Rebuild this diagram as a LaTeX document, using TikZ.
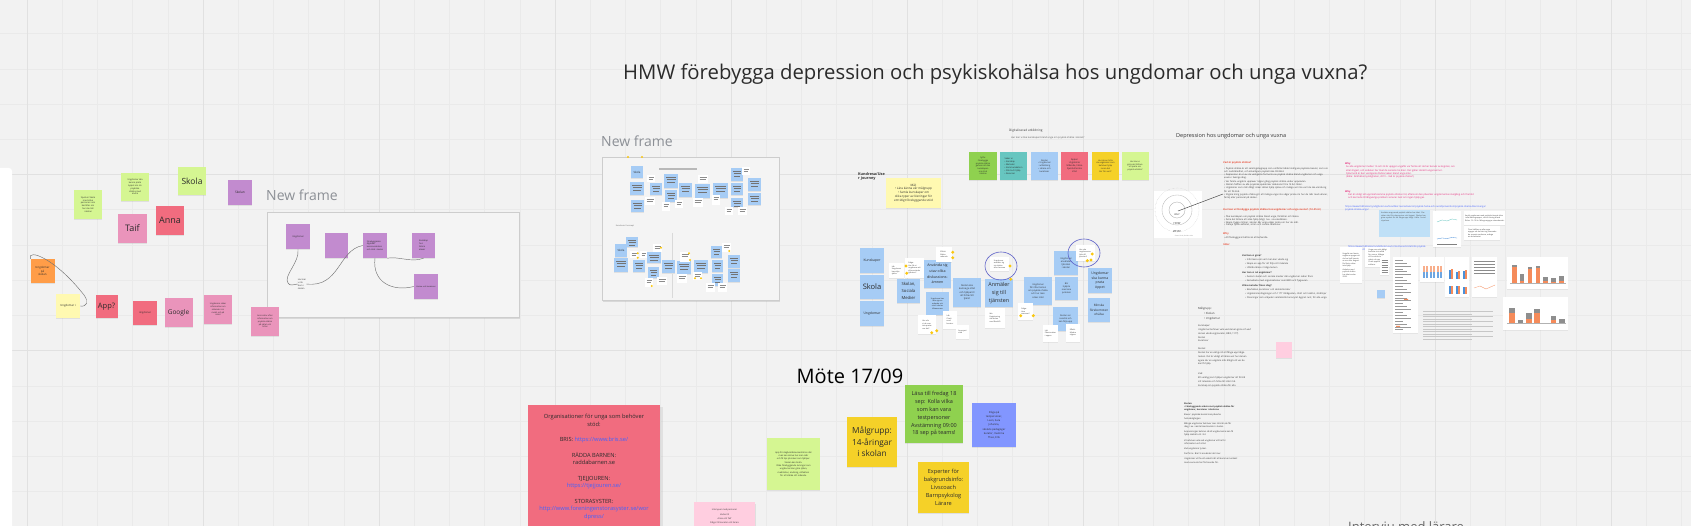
\documentclass[tikz,border=0pt]{standalone}
\usepackage{fontspec}
\setmainfont{Open Sans}
\usetikzlibrary{shadows}
\definecolor{bg}{HTML}{F2F2F2}
\definecolor{gridminor}{HTML}{EAEAEA}
\definecolor{gridmajor}{HTML}{E1E1E1}
\definecolor{lgreen}{HTML}{D5F692}
\definecolor{mgreen}{HTML}{8FD14F}
\definecolor{violetn}{HTML}{C28BCF}
\definecolor{pinkn}{HTML}{EA94BB}
\definecolor{redn}{HTML}{F16C7F}
\definecolor{orangen}{HTML}{FF9D48}
\definecolor{lyellow}{HTML}{FFF9B1}
\definecolor{yellown}{HTML}{F5D128}
\definecolor{lblue}{HTML}{A6CCF5}
\definecolor{tealn}{HTML}{67C6C0}
\definecolor{dblue}{HTML}{8296FF}
\definecolor{lpink}{HTML}{FFCEE0}
\definecolor{framegray}{HTML}{8C9096}
\definecolor{framefill}{HTML}{F4F4F4}
\definecolor{framedraw}{HTML}{CDCDCD}
\definecolor{linkblue}{HTML}{4262FF}
\definecolor{headred}{HTML}{E8513B}
\definecolor{pinktext}{HTML}{E6287A}
\definecolor{dotyellow}{HTML}{FAC710}
\definecolor{circleblue}{HTML}{5B5FC7}
\definecolor{chartorange}{HTML}{F58B5A}
\definecolor{chartgray}{HTML}{8E8E8E}
\definecolor{chartblue}{HTML}{4A90D9}
\definecolor{inktext}{HTML}{2B2B2B}
\definecolor{boxblue}{HTML}{BFE0F7}
\tikzset{
  note/.style={fill=#1, inner sep=0.6pt, align=center, text=inktext,
    drop shadow={opacity=0.16, shadow xshift=0.3pt, shadow yshift=-1.3pt}},
  sz/.style 2 args={minimum width=#1pt, minimum height=#2pt},
  fs/.style 2 args={font=\fontsize{#1}{#2}\selectfont},
  card/.style={fill=white, inner sep=0.8pt, align=left, text=black!75,
    font=\fontsize{1.9}{2.5}\selectfont,
    drop shadow={opacity=0.12, shadow xshift=0pt, shadow yshift=-0.8pt}},
  ydot/.style={circle, fill=dotyellow, inner sep=0pt, minimum size=3.3pt},
  conn/.style={draw=black!55, line width=0.45pt},
  framebox/.style={fill=framefill, draw=framedraw, line width=0.7pt, inner sep=0pt,
    drop shadow={opacity=0.22, shadow xshift=0.6pt, shadow yshift=-1.2pt}},
  framelabel/.style={font=\fontsize{14}{16}\selectfont, text=framegray, inner sep=0pt},
  txt/.style={inner sep=0pt, align=left, text=black!80},
}
\begin{document}
\begin{tikzpicture}[x=1pt,y=-1pt]
\useasboundingbox (0,0) rectangle (1691,526);
\clip (0,0) rectangle (1691,526);
\fill[bg] (0,0) rectangle (1691,526);
% grid
\foreach \i in {0,...,47} \draw[gridminor, line width=0.6pt] ({27+35.2*\i},0) -- ({27+35.2*\i},526);
\foreach \j in {1,...,14} \draw[gridminor, line width=0.6pt] (0,{-1.4+35.2*\j}) -- (1691,{-1.4+35.2*\j});
\foreach \i in {0,...,9} \draw[gridmajor, line width=0.8pt] ({27+176*\i},0) -- ({27+176*\i},526);
\foreach \j in {1,2} \draw[gridmajor, line width=0.8pt] (0,{-1.4+176*\j}) -- (1691,{-1.4+176*\j});

% title
\node[anchor=base west, inner sep=0, font=\fontsize{20.3}{24}\selectfont, text=inktext] (title) at (623,79.5) {HMW förebygga depression och psykiskohälsa hos ungdomar och unga vuxna?};

% left white panel
\fill[white, rounded corners=3pt] (-6,168) rectangle (12,540);

% ---------- left cluster ----------
\node[note=lgreen, sz={28}{29}, fs={2.2}{2.8}] (jg1) at (88,204.5) {Spela in Skola\\med olika\\personer som\\berättar om\\hur de mår\\i skolan};
\node[note=lgreen, sz={28}{28}, fs={2.2}{2.8}] (jg2) at (135,187) {Ungdomar ska\\kunna prata\\öppet om sin\\psykiska\\ohälsa med\\andra};
\node[note=lgreen, sz={28}{28}, fs={8.5}{10}] (skola) at (192,181) {Skola};
\node[note=violetn, sz={24}{25}, fs={3.2}{4}] (skolan) at (240,192.5) {Skolan};
\node[note=pinkn, sz={29}{29}, fs={9}{10}] (taif) at (132.5,228.5) {Taif};
\node[note=redn, sz={28}{29}, fs={9}{10}] (anna) at (170,220.5) {Anna};
\node[note=orangen, sz={24}{24}, fs={2.8}{3.6}] (ung1) at (42.5,271) {Ungdomar\\på\\skolan};
\node[note=lyellow, sz={24}{24}, fs={2.8}{3.6}] (ung2) at (68,306) {Ungdomar i};
\node[note=redn, sz={22}{23}, fs={7.5}{8}] (app) at (106.5,306.5) {App?};
\node[note=redn, sz={24}{24}, fs={2.4}{3}] (ung3) at (145,313) {Ungdomar};
\node[note=pinkn, sz={28}{29}, fs={6.5}{7}] (google) at (178.5,312.5) {Google};
\node[note=pinkn, sz={28}{29}, fs={2.1}{2.8}] (pk1) at (218,309.5) {Ungdomar söker\\information om\\mående i sin\\mobil och på\\nätet};
\draw[conn] (ung1.north west) .. controls (27,248) and (55,258) .. (84,295) .. controls (89,302) and (87,307) .. (ung2.east);

% ---------- left frame ----------
\node[framelabel, anchor=base west] (fl1) at (266,201) {New frame};
\node[framebox, anchor=north west, sz={252}{105}] (f1) at (267,212) {};
\node[note=violetn, sz={24}{25}, fs={2.3}{3}] (p1) at (298,236.5) {Ungdomar};
\node[note=violetn, sz={23}{25}] (p2) at (336.5,245.5) {};
\node[note=violetn, sz={24}{25}, fs={2.1}{2.8}, align=left] (p3) at (375,245.5) {Förebyggande\\åtgärder\\kommunikation\\och stöd i skolan};
\node[note=violetn, sz={23}{25}, fs={2.2}{2.9}, align=left] (p4) at (423.5,245.5) {Kunskap\\hos\\lärare\\elever};
\node[note=violetn, sz={24}{25}, fs={2}{2.6}] (p5) at (426,286.5) {Lärare och kuratorer};
\node[txt, fs={2.2}{2.9}] (t1) at (302,284) {Hur kan\\vi nå\\dem i\\skolan};
\draw[conn] (p1.south) .. controls (300,262) and (283,276) .. (288,283) .. controls (290,286) and (292,285) .. (t1.west);
\draw[conn] (t1.east) .. controls (340,288) and (338,250) .. (p3.west);
\draw[conn] (p3.south east) .. controls (398,256) and (412,263) .. (p4.south);
\draw[conn] (p3.south) .. controls (372,282) and (392,292) .. (p5.west);
\node[note=pinkn, sz={28}{29}, fs={2.1}{2.8}] (pk2) at (265,321.5) {Anna letar efter\\information om\\psykisk ohälsa\\på nätet och\\hittar};

% ---------- middle frame ----------
\node[framelabel, anchor=base west] (fl2) at (601,147) {New frame};
\node[framebox, anchor=north west, sz={177}{143}] (f2) at (602,157) {};
\fill[gray!55] (659,168) rectangle (697,170.5);
\draw[gray!30, line width=0.4pt] (672,233) -- (672,298);
\node[txt, fs={2}{2.5}, text=black!60] (custlab) at (625,226) {Kundresa / koncept};
\foreach \a/\b/\c/\d in {630/182/644/195, 631/200/644/212, 650/183/662/195, 664/174/678/188, 665/190/677/202, 679/183/692/197, 695/184/710/198, 713/183/728/198, 731/168/743/181, 731/183/743/195, 731/198/743/207, 748/178/761/191, 748/193/761/205, 626/237/638/247, 614/258/628/272, 633/260/645/272, 647/252/661/263, 648/267/659/278, 662/260/675/273, 677/261/691/274, 694/260/708/273, 711/246/722/258, 712/260/723/272, 712/274/723/286, 728/255/740/268, 728/269/740/282} {
  \fill[black!12] ({\a+0.3},{\b+0.8}) rectangle ({\c+0.3},{\d+0.8});
  \fill[lblue] (\a,\b) rectangle (\c,\d);
  \draw[black!55, line width=0.3pt] ({\a+2},{\b+3}) -- ({\c-2},{\b+3}) ({\a+2.5},{\b+5.5}) -- ({\c-2.5},{\b+5.5}) ({\a+3},{\b+8}) -- ({\c-3},{\b+8});
}
\node[note=lblue, sz={12}{12}, fs={2.8}{3}] (ms1) at (637,172) {Skola};
\node[note=lblue, sz={12}{13}, fs={2.8}{3}] (ms2) at (621,250.5) {Skola};
\foreach \a/\b/\c/\d in {647/175/655/182, 645/197/655/205, 662/202/670/211, 675/200/683/208, 693/198/703/207, 698/175/708/183, 712/195/720/205, 725/207/733/215, 738/207/747/215, 742/167/750/175, 653/244/662/252, 630/251/638/258, 640/251/647/258, 680/252/690/262, 677/274/687/283, 657/277/667/285, 645/278/653/287, 693/272/702/280, 706/283/715/292, 718/283/727/292, 722/243/731/252} {
  \fill[white] (\a,\b) rectangle (\c,\d);
  \draw[black!45, line width=0.25pt] ({\a+1.5},{\b+2.5}) -- ({\c-1.5},{\b+2.5}) ({\a+1.5},{\b+4.5}) -- ({\c-2.5},{\b+4.5});
}
\foreach \p/\q in {637.7/253.3, 637.7/257.7, 661/247.7, 689/253.3, 690/260, 695/278.3, 701/278.3, 651.7/286, 729.3/251, 628/157, 642/157}
  \fill[dotyellow] (\p,\q) circle (1.1pt);

% ---------- middle cluster ----------
\node[anchor=north west, txt, fs={4}{4.6}, font=\bfseries\fontsize{3.8}{4.6}\selectfont] (kund) at (858,172) {Kundresa/Use\\r journey};
\node[note=lyellow, sz={55}{30}, fs={3}{3.9}] (mal) at (913.5,193) {Mål:\\• Lära känna vår målgrupp\\• Samla kunskaper om\\olika typer av lösningar för\\ett tidigt förebyggande stöd};
\node[anchor=west, txt, fs={3.1}{3.5}] (digit) at (1009,131) {Digitaliserad utbildning};
\node[anchor=west, txt, fs={2.4}{3}, text=black!65] (hurkan) at (1011,137.5) {Hur kan vi öka kunskapen bland unga om psykisk ohälsa i skolan?};
\node[note=mgreen, sz={28}{28}, fs={2.1}{2.7}] (tg) at (983,166) {Syfte:\\Förebygga\\psykisk ohälsa\\genom att öka\\kunskapen\\om stöd\\i skolan};
\node[note=tealn, sz={27}{28}, fs={2.2}{2.9}, align=left] (tt) at (1013.5,166) {Saker vi:\\• Kunskap\\• Metoder\\• Kommunikation\\• Stöd och hjälp\\• Resurser};
\node[note=lblue, sz={27}{28}, fs={2.2}{2.9}] (tb) at (1044.5,166) {Skolan\\• Ungdomar\\i utbildning\\• Lärare och\\kuratorer};
\node[note=redn, sz={27}{28}, fs={2.3}{3}] (tr) at (1074.5,166) {Appen\\Ungdomar\\Mående, hälsa\\Sjuksköterska\\stöd};
\node[note=yellown, sz={27}{28}, fs={2.1}{2.8}] (ty) at (1105.5,166) {Hur ska vi hitta\\de ungdomar som\\behöver hjälp\\innan det\\blir för sent?};
\node[note=lgreen, sz={27}{28}, fs={2.1}{2.8}] (tl) at (1135,166) {Hur kan vi\\göra det lättare\\att prata om\\psykisk ohälsa?};

\node[note=lblue, sz={24}{25}, fs={3.4}{4}] (b1) at (872,260.5) {Kunskaper};
\node[note=lblue, sz={24}{24}, fs={7.5}{8}] (b2) at (872,287) {Skola};
\node[note=lblue, sz={24}{25}, fs={3.4}{4}] (b3) at (872,313.5) {Ungdomar};
\node[note=lblue, sz={23}{24}, fs={4.2}{6.6}] (b4) at (908.5,291) {Skolan,\\Sociala\\Medier};
\node[note=lblue, sz={27}{28}, fs={3.6}{5.6}] (b5) at (937.5,274) {Använda sig\\utav olika\\diskussions-\\ämnen};
\node[note=lblue, sz={23}{23}, fs={1.9}{2.5}] (b6) at (937.5,303.5) {Ungdomar kan\\lära sig om\\mående och\\stöd i skolan\\tillsammans};
\node[note=lblue, sz={28}{29}, fs={2.4}{3.2}] (b7) at (967,292.5) {Skolan ska\\kunna ge stöd\\och hjälpa till\\att hitta rätt\\tjänst};
\node[note=lblue, sz={28}{28}, fs={5.4}{8}] (b8) at (999,293) {Anmäler\\sig till\\tjänsten};
\node[note=lblue, sz={28}{28}, fs={2.3}{3.1}] (b9) at (1038,291) {Ungdomar\\får information\\om psykisk ohälsa\\och hur man\\söker stöd};
\node[note=lblue, sz={24}{24}, fs={2.3}{3.1}] (b10) at (1066,263) {Ungdomar\\använder\\tjänsten\\i skolan};
\node[note=lblue, sz={23}{23}, fs={2.2}{3}] (b11) at (1066.5,288.5) {Blir\\hjälpta\\med sina\\problem};
\node[note=lblue, sz={25}{24}, fs={2.2}{3}] (b12) at (1065.5,319) {Skolan ser\\resultat och\\kan följa upp};
\node[note=lblue, sz={24}{25}, fs={3.5}{4.8}] (b13) at (1100,280.5) {Ungdomar\\ska kunna\\prata\\öppet};
\node[note=lblue, sz={22}{24}, fs={3.1}{4.6}] (b14) at (1099,310) {Minska\\förekomsten\\ohälsa};

\node[card, sz={15}{15}] (w1) at (896.5,270.5) {Idé:\\Ungdomar\\kan välja\\själva};
\node[card, sz={19}{20}] (w2) at (914.5,268) {Fråga:\\Hur får vi\\ungdomar att\\vilja använda\\tjänsten?};
\node[card, sz={16}{15}] (w3) at (944,254.5) {Effekt:\\Bättre\\mående};
\node[card, sz={18}{19}] (w4) at (927,324.5) {Hur når\\vi de som\\inte pratar\\om det?};
\node[card, sz={14}{18}] (w5) at (950,320) {Idé:\\Chatt\\med\\kurator};
\node[card, sz={13}{14}] (w6) at (962.5,332) {Anonymt\\stöd};
\node[card, sz={20}{20}] (w7) at (995,318) {Idé:\\Registrering\\via skolan\\med BankID};
\node[card, sz={15}{17}] (w8) at (1025.5,311.5) {Fråga:\\Vem\\ansvarar?};
\node[card, sz={15}{17}] (w9) at (1050.5,333.5) {Idé:\\Påminnelser\\i appen};
\node[card, sz={14}{18}] (w10) at (1073,333) {Effekt:\\Mindre\\stigma};
\draw[circleblue, line width=0.6pt] (1001,266) ellipse [x radius=16pt, y radius=14pt];
\draw[circleblue, line width=0.6pt] (1084,253) ellipse [x radius=16pt, y radius=14pt];
\node[card, sz={19}{14}] (w11) at (999.5,264.5) {Ungdomar\\anmäler sig\\via skolan\\eller hemma};
\node[card, sz={19}{16}] (w12) at (1085,253.5) {Hur ska\\ungdomarna\\hitta till\\tjänsten?};
\foreach \p/\q in {906/266, 906.7/273.3, 952.7/252.3, 952.7/257.7, 1010/266, 1010.7/279.3, 936.7/330.7, 931.7/332.7, 1020.7/315.7, 1033.3/315.7, 1092.3/254, 1087.3/260.7, 1091/260}
  \node[ydot] at (\p,\q) {};

% ---------- golden circle ----------
\node[fill=white, sz={48}{47}, inner sep=0pt] (gc) at (1178,214.5) {};
\draw[gray!45, line width=0.35pt, densely dotted] (1177,210) circle (22pt);
\draw[gray!55, line width=0.35pt] (1177,210) circle (15pt);
\draw[gray!65, line width=0.35pt] (1177,210) circle (8pt);
\node[txt, fs={2.4}{3}] (why) at (1177,215) {WHY};
\node[txt, fs={2.8}{3}] (how) at (1177,223.5) {HOW};
\node[txt, fs={2.8}{3}] (what) at (1177,231) {WHAT};
\node[txt, fs={1.5}{2}, text=black!50] (gcap) at (1184,236.5) {Simon Sinek, Golden circle};
\coordinate (gcc) at (1178,211);
\draw[black!70, line width=0.5pt] (gcc) -- (1223,194);

% ---------- depression text ----------
\node[anchor=west, txt, fs={5.5}{6}, text=black!80] (dep) at (1176,136) {Depression hos ungdomar och unga vuxna};
\node[anchor=west, txt, text=headred, font=\bfseries\fontsize{2.5}{3}\selectfont] (ha) at (1223,163) {Vad är psykisk ohälsa?};
\node[anchor=north west, txt, text width=104pt, fs={2.3}{3.3}] (ba) at (1224,167) {• Psykisk ohälsa är ett samlingsbegrepp som omfattar både lindrigare psykiska besvär, som oro och nedstämdhet, och allvarligare psykiatriska tillstånd.\\• Depression är en av de vanligaste formerna av psykisk ohälsa bland ungdomar och unga vuxna i Sverige idag.\\• Var femte ungdom upplever någon gång psykisk ohälsa under uppväxten.\\• Nästan hälften av alla psykiska sjukdomar debuterar före 14 års ålder.\\• Ungdomar som mår dåligt söker sällan hjälp själva och många vet inte vart de ska vända sig för att få stöd.\\• Stigma kring psykisk ohälsa gör att många unga inte vågar prata om hur de mår med vänner, familj eller personal på skolan.};
\node[anchor=west, txt, text=headred, font=\bfseries\fontsize{2.5}{3}\selectfont] (hb) at (1223,210) {Hur kan vi förebygga psykisk ohälsa hos ungdomar och unga vuxna? (12--25 år)};
\node[anchor=north west, txt, text width=92pt, fs={2.3}{2.9}] (bb) at (1224,215) {• Öka kunskapen om psykisk ohälsa bland unga, föräldrar och lärare.\\• Göra det lättare att söka hjälp tidigt, t.ex. via elevhälsan.\\• Skapa trygga miljöer i skolan där unga vågar prata om hur de mår.\\• Främja fysisk aktivitet, sömn och sociala relationer.};
\node[anchor=west, txt, text=headred, font=\bfseries\fontsize{2.5}{3}\selectfont] (hc) at (1223,234) {Why};
\node[anchor=west, txt, fs={2.3}{3}] (bc) at (1224,238) {• Att förebygga är bättre än att behandla.};
\node[anchor=west, txt, text=headred, font=\bfseries\fontsize{2.5}{3}\selectfont] (hd) at (1223,244.5) {Idéer};
\node[anchor=north west, txt, text width=100pt, fs={2.3}{4}] (bd) at (1242,254.5) {\textbf{Vad kan vi göra?}\\ \hspace*{3pt}• Informera om vart man kan vända sig\\ \hspace*{3pt}• Skapa en app för att följa sitt mående\\ \hspace*{3pt}• Utbilda lärare i tidiga tecken\\[1pt]\textbf{Hur kan vi nå ungdomar?}\\ \hspace*{3pt}• Genom skolan och sociala medier där ungdomar redan finns\\ \hspace*{3pt}• Samarbeta med organisationer som BRIS och Tjejjouren\\[1pt]\textbf{Vilka metoder finns idag?}\\ \hspace*{3pt}• Elevhälsan, kuratorer och skolsköterskor\\ \hspace*{3pt}• Ungdomsmottagningar och 1177 Vårdguiden, chatt och telefon, stödlinjer\\ \hspace*{3pt}• Föreningar som erbjuder samtalsstöd anonymt dygnet runt, för alla unga};
\node[anchor=north west, txt, fs={2.8}{5}] (mg) at (1198,307.5) {Målgrupp:\\ \hspace*{6pt}• Skolan\\ \hspace*{6pt}• Ungdomar};
\node[anchor=north west, txt, fs={2.3}{3.7}] (ku) at (1198,325) {Kunskaper:\\Ungdomar behöver veta vad de kan göra och vart\\de kan vända sig (kurator, BRIS, 1177)\\Skolan\\Kuratorer};
\node[anchor=north west, txt, fs={2.3}{3.7}] (sk) at (1198,348) {Skolan:\\Skolan har en viktig roll att fånga upp tidiga\\tecken. Det är viktigt att lärare vet hur de kan\\agera när en ungdom mår dåligt och var de\\kan få hjälp.};
\node[anchor=north west, txt, fs={2.3}{3.7}] (va) at (1198,373) {Vad:\\Ett verktyg som hjälper ungdomar att förstå\\sitt mående och hitta rätt stöd i tid.\\Kunskap om psykisk ohälsa för alla};
\node[anchor=north west, txt, fs={2.2}{3.2}] (sr) at (1184,402.5) {\textbf{Skolan:}\\\textbf{• Förebyggande arbete mot psykisk ohälsa för}\\\textbf{ungdomar, kuratorer i skolorna}\\[2pt]Elever: psykiska besvär kan påverka\\hela skolgången\\[2pt]Många ungdomar behöver mer stöd än de får\\idag, t.ex. samtal med kurator i skolan.\\[2pt]Anpassningar behövs så att ungdomarna kan få\\hjälp snabbt och i tid\\[2pt]Vi behöver veta vad ungdomar vill ha för\\information och stöd\\[2pt]Vad ungdomar tycker.\\[2pt]Det finns. Bra! Vi använder det mer.\\[2pt]Ungdomar vill ha ett enkelt sätt att komma i kontakt\\med vuxna de har förtroende för.};
\node[note=lpink, sz={16}{16}] (psq) at (1284,350) {};

% pink / link texts
\node[anchor=north west, txt, text=pinktext, fs={2.4}{3.3}] (pw1) at (1345,162.5) {\textbf{Why}\\ \hspace*{1pt}Av alla ungdomar mellan 16 och 24 år uppger ungefär var femte att de har besvär av ängslan, oro\\ \hspace*{1pt}eller ångest, och andelen har ökat de senaste tio åren. Det gäller särskilt unga kvinnor.\\ \hspace*{1pt}Självmord är den vanligaste dödsorsaken bland unga män.\\ \hspace*{1pt}(Källa: Folkhälsomyndigheten, 2019 -- Vad är psykisk ohälsa?)};
\node[anchor=north west, txt, text=pinktext, fs={2.4}{3.3}] (pw2) at (1345,190) {\textbf{Why}\\ \hspace*{3pt}Det är viktigt att uppmärksamma psykisk ohälsa i tid, eftersom den påverkar ungdomarnas skolgång och framtid\\ \hspace*{3pt}och kan leda till långvariga problem senare i livet om ingen hjälp ges.};
\node[anchor=north west, txt, text=linkblue, fs={2.4}{3.3}] (lk1) at (1345,205.5) {https://www.folkhalsomyndigheten.se/livsvillkor-levnadsvanor/psykisk-halsa-och-suicidprevention/psykisk-ohalsa-bland-unga/\\psykisk-ohalsa-unga/};
\node[anchor=north west, txt, text=linkblue, fs={2.4}{3.3}] (lk2) at (1348,245.5) {https://www.folkhalsomyndigheten.se/contentassets/statistik-psykisk-\\ohalsa-unga-2019-rapport.pdf};
\node[fill=boxblue, anchor=north west, sz={51}{27}, inner sep=1.5pt, align=left, fs={1.9}{2.6}, text=black!70] (lbox) at (1379,210) {};
\node[anchor=north west, txt, text width=47pt, fs={1.9}{2.6}, text=black!70] (lboxt) at (1381,212) {Andelen unga med psykisk ohälsa har ökat. Fler söker vård för depression och ångest. Skolan kan göra mycket för att fånga upp tidigt. Källa: Socialstyrelsen};
\node[card, anchor=north west, sz={22}{36}] (sc0) at (1340,247) {Ungefär var femte\\ungdom uppger att\\de har haft besvär\\av oro eller ångest.\\De flesta söker\\inte hjälp.\\[1pt]Andelen med\\psykisk ohälsa\\har ökat sedan\\2006.};
\node[card, anchor=north west, sz={25}{20}] (sc00) at (1365,247) {Unga som mår dåligt\\berättar inte alltid\\för vuxna. Många\\vill ha stöd via\\nätet och appar.\\Chatt upplevs\\enklare.};
\node[note=lblue, sz={8}{8}] (bsq) at (1381,294) {};
% chart images
\node[card, anchor=north west, sz={28}{36}] (c1) at (1433,211) {};
\draw[tealn, line width=0.3pt] (1437,222) -- (1442,220) -- (1447,221) -- (1452,219) -- (1457,220);
\draw[chartblue, line width=0.3pt] (1437,239) -- (1442,238) -- (1447,238.5) -- (1452,237.5) -- (1457,238);
\draw[black!50, line width=0.3pt] (1437,244) -- (1457,244);
\node[card, anchor=north west, sz={39}{14}] (c2) at (1464,211) {Andel ungdomar med psykiska besvär ökar\\i alla åldersgrupper, störst ökning bland\\flickor 15--19 år. Många uppger sömnbesvär.};
\node[card, anchor=north west, sz={36}{14}] (c3) at (1464,226) {Över hälften av alla unga\\uppger att de känt sig stressade\\de senaste veckorna, många\\av skolarbetet.};
\node[card, anchor=north west, sz={9}{18}] (c4) at (1380,257) {};
\foreach \k in {0,...,5} \draw[black!45, line width=0.25pt] (1381.5,{260+2.5*\k}) -- (1387.5,{260+2.5*\k});
\node[card, anchor=north west, sz={25}{76}] (c5) at (1393,257) {};
\foreach \k in {0,...,24} \draw[black!40, line width=0.25pt] (1395,{260+2.9*\k}) -- ({1403+(mod(\k,3))*4},{260+2.9*\k});
\fill[chartorange] (1396,326) rectangle (1400,327) (1404,299) rectangle (1408,300);
\node[card, anchor=north west, sz={24}{25}] (c6) at (1420,257) {};
\foreach \k in {0,...,5} {\fill[chartblue!80] ({1423+3.4*\k},272) rectangle ({1425+3.4*\k},278); \fill[chartorange!70] ({1423+3.4*\k},266) rectangle ({1425+3.4*\k},272);}
\node[card, anchor=north west, sz={24}{40}] (c7) at (1445,257) {};
\foreach \k/\h in {0/9, 1/7, 2/8} {\fill[chartblue] ({1449+7*\k},{279-\h}) rectangle ({1450.5+7*\k},279); \fill[chartorange] ({1451+7*\k},{279-\h-1}) rectangle ({1452.5+7*\k},279);}
\foreach \k/\h in {0/8, 1/8, 2/7} {\fill[chartblue] ({1449+7*\k},{294-\h}) rectangle ({1450.5+7*\k},294); \fill[chartorange] ({1451+7*\k},{294-\h}) rectangle ({1452.5+7*\k},294);}
\node[card, anchor=north west, sz={25}{40}] (c8) at (1472,257) {};
\foreach \k in {0,...,4} \draw[black!45, line width=0.3pt] (1474,{261+3*\k}) -- (1495,{261+3*\k});
\draw[chartorange, line width=0.3pt] (1474,288) -- (1480,286) -- (1486,289) -- (1495,285);
\node[card, anchor=north west, sz={61}{32}] (c9) at (1507,257) {};
\draw[black!30, line width=0.2pt] (1510,282.7) -- (1566,282.7);
\foreach \l/\r/\g/\o in {1512.3/1517/265/266.7, 1520/1524.3/274/280.7, 1527.7/1532.3/266.7/269, 1535.7/1540.3/266/268, 1543.3/1548/276.7/281.3, 1551/1555.7/277.7/281.7, 1559/1563.7/276/281} {\fill[chartgray] (\l,\g) rectangle (\r,\o); \fill[chartorange] (\l,\o) rectangle (\r,282.7);}
\node[card, anchor=north west, sz={65}{33}] (c10) at (1503,297) {};
\draw[black!30, line width=0.2pt] (1507,323.3) -- (1566,323.3);
\foreach \l/\r/\g/\o in {1509.3/1515/307.7/312.7, 1526/1531.7/313/319, 1534/1540/309/313.3, 1551/1556/316/320} {\fill[chartgray] (\l,\g) rectangle (\r,\o); \fill[chartorange] (\l,\o) rectangle (\r,323.3);}
\fill[chartgray] (1517.7,320) rectangle (1523.3,323.3);
\fill[chartgray] (1559,319) rectangle (1565,323.3);
\foreach \k in {0,...,5} {\fill[black!22] (1423,{311.2+5*\k}) rectangle (1493,{312.5+5*\k}); \fill[black!22] (1423,{313.7+5*\k}) rectangle (1472,{315+5*\k});}

% ---------- bottom: Möte 17/09 ----------
\node[inner sep=0, font=\fontsize{20}{24}\selectfont, text=black] (mote) at (850,376) {Möte 17/09};
\node[fill=redn, anchor=north west, sz={132}{130}, inner sep=0pt, drop shadow={opacity=0.14, shadow yshift=-1.3pt}] (org) at (528,405) {};
\node[anchor=north, inner sep=0, align=center, fs={5.7}{7.7}, text=inktext] (orgt) at (594,414) {Organisationer för unga som behöver\\stöd:\\[7.7pt]BRIS: \textcolor{linkblue}{https://www.bris.se/}\\[7.7pt]RÄDDA BARNEN:\\raddabarnen.se\\[7.7pt]TJEJJOUREN:\\\textcolor{linkblue}{https://tjejjouren.se/}\\[7.7pt]STORASYSTER:\\\textcolor{linkblue}{http://www.foreningenstorasyster.se/wor}\\\textcolor{linkblue}{dpress/}};
\node[note=lpink, anchor=north west, sz={61}{30}] (intv) at (694,502) {};
\node[anchor=north, txt, align=center, fs={2.2}{4.2}] (intvt) at (724.5,509) {Intervjuer med personer\\Vecka 39\\Anna och Taif\\Frågor till kurator och lärare};
\node[note=lgreen, sz={53}{52}, fs={2.2}{3.3}] (lg2) at (793.5,464) {App för dagbok/dokumentation där\\man kan skriva hur man mår\\och få tips på saker som hjälper.\\Skolan kan bidra.\\Olika förebyggande övningar som\\ungdomar kan göra själva,\\meditation, andning, reflektion\\för att stärka sitt mående.};
\node[note=yellown, sz={50}{50}, fs={8.3}{11.5}] (malg) at (872,442) {Målgrupp:\\14-åringar\\i skolan};
\node[note=mgreen, sz={58}{58}, fs={5.5}{7.8}] (lasa) at (934,414) {Läsa till fredag 18\\sep: Kolla vilka\\som kan vara\\testpersoner\\Avstämning 09:00\\18 sep på teams!};
\node[note=dblue, sz={44}{44}, fs={2.6}{4.2}] (fraga) at (994,425) {Fråga på\\testpersoner,\\Leon, Sara\\Johanna,\\skolans pedagoger\\kurator, mamma\\Theo, Erik};
\node[note=yellown, sz={51}{51}, fs={5.6}{8}] (exp) at (943.5,487.5) {Experter för\\bakgrundsinfo:\\Livscoach\\Barnpsykolog\\Lärare};
\node[anchor=base west, inner sep=0, font=\fontsize{13}{15}\selectfont, text=black!60] (intl) at (1348,531) {Intervju med lärare};
\end{tikzpicture}
\end{document}
